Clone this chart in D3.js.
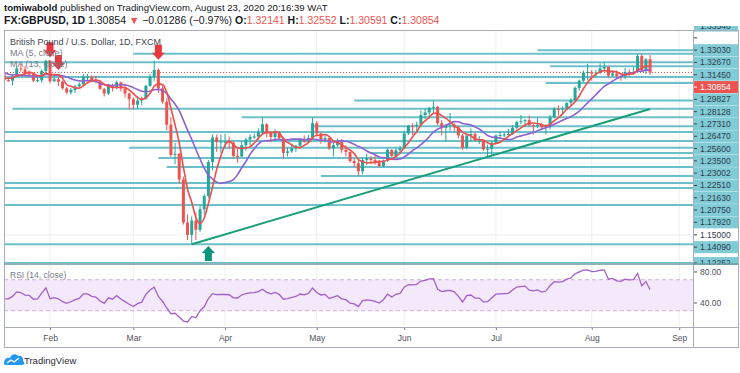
<!DOCTYPE html>
<html>
<head>
<meta charset="utf-8">
<script src="https://cdn.jsdelivr.net/npm/d3@7"></script>
<style>
  body { margin: 0; background: #fff; }
  svg { font-family: "Liberation Sans", Arial, sans-serif; }
</style>
</head>
<body>
<div id="chart"></div>
<script>
// ---- DATA ---------------------------------------------------------------
// daily bars (weekdays) from 2019-12-27; the first 15 bars are off screen, they only seed MA / RSI
const firstDay = "2019-12-27", lastDay = "2020-08-21"

const opens = [
  1.3010,1.3075,1.3115,1.3255,1.3245,1.3145,1.3080,1.3185,1.3115,1.3105,1.3065,1.3060,1.2990,1.3025,1.3035,
  1.3070,1.3010,1.3005,1.3045,1.3125,1.3115,1.3075,1.3070,1.3005,1.3010,1.3100,
  1.3200,1.3000,1.3020,1.2995,1.2930,1.2890,1.2915,1.2950,1.2970,1.3045,1.3045,1.3005,1.2995,1.2925,1.2880,1.2960,1.2935,1.2990,1.2930,1.2880,
  1.2825,1.2770,1.2810,1.2830,1.2955,1.3045,1.3110,1.2930,1.2800,1.2575,1.2280,1.2290,1.2040,1.1620,1.1500,1.1640,1.1550,1.1750,1.1880,1.2210,1.2450,1.2405,
  1.2410,1.2410,1.2400,1.2270,1.2265,1.2375,1.2430,1.2455,1.2460,1.2500,1.2580,1.2495,1.2455,1.2495,1.2445,1.2300,1.2315,1.2345,1.2370,1.2430,1.2410,1.2445,
  1.2590,1.2490,1.2430,1.2445,1.2345,1.2375,1.2405,1.2330,1.2310,1.2220,1.2200,1.2120,1.2230,1.2245,1.2230,1.2210,1.2170,1.2225,1.2330,1.2270,1.2325,
  1.2345,1.2490,1.2565,1.2560,1.2575,1.2670,1.2695,1.2740,1.2750,1.2590,1.2545,1.2565,1.2575,1.2550,1.2470,1.2350,1.2470,1.2485,1.2420,1.2420,1.2335,1.2340,
  1.2400,1.2470,1.2475,1.2480,1.2485,1.2545,1.2600,1.2610,1.2620,1.2570,1.2560,1.2575,1.2550,1.2565,1.2650,1.2730,1.2725,1.2735,1.2790,1.2815,1.2935,1.3005,1.3085,
  1.3090,1.3075,1.3085,1.3125,1.3140,1.3055,1.3075,1.3050,1.3045,1.3090,1.3085,1.3090,1.3245,1.3105,1.32141
]
const highs = [
  1.3085,1.3120,1.3285,1.3265,1.3270,1.3150,1.3195,1.3215,1.3155,1.3120,1.3100,1.3065,1.3030,1.3045,1.3085,
  1.3120,1.3035,1.3070,1.3150,1.3175,1.3150,1.3105,1.3075,1.3050,1.3115,1.3210,
  1.3205,1.3070,1.3045,1.3005,1.2945,1.2935,1.2965,1.2990,1.3070,1.3070,1.3055,1.3055,1.2995,1.2935,1.2975,1.2975,1.3005,1.2995,1.2975,1.2890,
  1.2840,1.2855,1.2850,1.2965,1.3070,1.3200,1.3125,1.2960,1.2835,1.2650,1.2400,1.2300,1.2070,1.1700,1.1680,1.1720,1.1790,1.1900,1.2230,1.2480,1.2480,1.2480,
  1.2485,1.2460,1.2410,1.2350,1.2410,1.2450,1.2480,1.2490,1.2540,1.2647,1.2590,1.2510,1.2530,1.2515,1.2450,1.2350,1.2390,1.2380,1.2440,1.2470,1.2475,1.2647,
  1.2610,1.2500,1.2485,1.2450,1.2400,1.2440,1.2435,1.2375,1.2315,1.2245,1.2230,1.2250,1.2295,1.2270,1.2275,1.2230,1.2235,1.2345,1.2335,1.2355,1.2370,
  1.2515,1.2575,1.2590,1.2605,1.2715,1.2730,1.2750,1.2812,1.2760,1.2620,1.2580,1.2690,1.2590,1.2565,1.2485,1.2475,1.2540,1.2500,1.2465,1.2425,1.2380,1.2415,
  1.2480,1.2505,1.2500,1.2535,1.2570,1.2615,1.2670,1.2630,1.2665,1.2580,1.2640,1.2595,1.2580,1.2670,1.2745,1.2765,1.2755,1.2790,1.2835,1.2950,1.3015,1.3105,1.3170,
  1.3110,1.3110,1.3175,1.3185,1.3145,1.3105,1.3105,1.3070,1.3130,1.3115,1.3140,1.3265,1.3267,1.3225,1.32552
]
const lows = [
  1.3000,1.3060,1.3110,1.3230,1.3120,1.3060,1.3075,1.3105,1.3075,1.3055,1.3035,1.2960,1.2955,1.2990,1.3015,
  1.3000,1.2995,1.2960,1.3040,1.3095,1.3055,1.3040,1.2990,1.2990,1.2985,1.3060,
  1.2980,1.2995,1.2955,1.2920,1.2870,1.2870,1.2885,1.2930,1.2960,1.3010,1.2995,1.2980,1.2915,1.2850,1.2865,1.2900,1.2920,1.2900,1.2840,1.2725,
  1.2725,1.2730,1.2765,1.2820,1.2945,1.3005,1.2885,1.2780,1.2520,1.2260,1.2190,1.2000,1.1600,1.1450,1.1409,1.1450,1.1530,1.1700,1.1860,1.2130,1.2310,1.2300,
  1.2340,1.2340,1.2250,1.2205,1.2260,1.2320,1.2370,1.2440,1.2430,1.2480,1.2450,1.2405,1.2435,1.2425,1.2245,1.2265,1.2300,1.2310,1.2355,1.2395,1.2400,1.2440,
  1.2460,1.2390,1.2400,1.2330,1.2265,1.2360,1.2300,1.2265,1.2205,1.2165,1.2075,1.2090,1.2180,1.2195,1.2185,1.2160,1.2160,1.2210,1.2260,1.2265,1.2300,
  1.2340,1.2475,1.2475,1.2500,1.2560,1.2630,1.2635,1.2690,1.2570,1.2470,1.2410,1.2515,1.2515,1.2440,1.2330,1.2335,1.2415,1.2415,1.2385,1.2320,1.2255,1.2280,
  1.2385,1.2440,1.2455,1.2460,1.2475,1.2530,1.2580,1.2555,1.2560,1.2480,1.2540,1.2520,1.2480,1.2530,1.2640,1.2665,1.2690,1.2720,1.2765,1.2810,1.2905,1.2990,1.3010,
  1.3005,1.3035,1.3070,1.3095,1.3030,1.3045,1.3030,1.3005,1.3020,1.3050,1.3065,1.3085,1.3095,1.3070,1.30591
]
const closes = [
  1.3075,1.3115,1.3255,1.3245,1.3145,1.3080,1.3185,1.3115,1.3105,1.3065,1.3060,1.2990,1.3025,1.3035,1.3070,
  1.3010,1.3005,1.3045,1.3125,1.3115,1.3075,1.3070,1.3005,1.3010,1.3100,1.3200,
  1.3000,1.3020,1.2995,1.2930,1.2890,1.2915,1.2950,1.2970,1.3045,1.3045,1.3005,1.2995,1.2925,1.2880,1.2960,1.2935,1.2990,1.2930,1.2880,1.2825,
  1.2770,1.2810,1.2830,1.2955,1.3045,1.3110,1.2930,1.2800,1.2575,1.2280,1.2290,1.2040,1.1620,1.1500,1.1640,1.1550,1.1750,1.1880,1.2210,1.2450,1.2405,1.2410,
  1.2410,1.2400,1.2270,1.2265,1.2375,1.2430,1.2455,1.2460,1.2500,1.2580,1.2495,1.2455,1.2495,1.2445,1.2300,1.2315,1.2345,1.2370,1.2430,1.2410,1.2445,1.2590,
  1.2490,1.2430,1.2445,1.2345,1.2375,1.2405,1.2330,1.2310,1.2220,1.2200,1.2120,1.2230,1.2245,1.2230,1.2210,1.2170,1.2225,1.2330,1.2270,1.2325,1.2345,
  1.2490,1.2565,1.2560,1.2575,1.2670,1.2695,1.2740,1.2750,1.2590,1.2545,1.2565,1.2575,1.2550,1.2470,1.2350,1.2470,1.2485,1.2420,1.2420,1.2335,1.2340,1.2400,
  1.2470,1.2475,1.2480,1.2485,1.2545,1.2600,1.2610,1.2620,1.2570,1.2560,1.2575,1.2550,1.2565,1.2650,1.2730,1.2725,1.2735,1.2790,1.2815,1.2935,1.3005,1.3085,1.3090,
  1.3075,1.3085,1.3125,1.3140,1.3055,1.3075,1.3050,1.3045,1.3090,1.3085,1.3090,1.3245,1.3105,1.3214,1.30854
]

// horizontal levels drawn on the chart (start date, or null = from the left edge)
const levelPrices = [1.33030,1.32670,1.31860,1.31450,1.30410,1.29827,1.28128,1.27310,1.26470,1.25600,1.25040,1.24160,
                     1.23500,1.23002,1.22510,1.21630,1.20750,1.20060,1.19570,1.17920,1.14090,1.12252]
const levelStarts = ["2020-07-15","2020-03-02",null,"2020-07-20",null,"2020-07-17","2020-05-14","2020-01-21","2020-04-07","2020-04-30",null,null,
                     "2020-02-28","2020-05-20","2020-03-10","2020-03-12","2020-05-04",null,null,null,null,null]
// price labels shown on the right scale
const axisLabels = ["1.33030","1.32670","1.31450","1.30854","1.29827","1.28128","1.27310","1.26470","1.25600","1.23500",
                    "1.23002","1.22510","1.21630","1.20750","1.17920","1.15000","1.14090","1.12252"]
const lastPrice = 1.30854
const gridPrices = [1.15, 1.20, 1.25, 1.30]

const trendPoints = [["2020-03-20", 1.1409], ["2020-08-21", 1.2729]]
const sellArrows = [["2020-02-03", 1.3235], ["2020-02-05", 1.3110], ["2020-03-10", 1.3210]]
const buyArrows  = [["2020-03-26", 1.1392]]

const rsiTicks = [80, 40]
const rsiBand = [30, 70]

// ---- LAYOUT -------------------------------------------------------------
const W = 740, H = 373
const pL = 4, pR = 693, pT = 30, mainBottom = 263, rsiTop = 264, rsiBottom = 327, axisBottom = 347
const green = "#26a69a", red = "#ef5350", levelColor = "#6cc0cc", boxColor = "#80cbd6"

const fmt = d3.timeFormat("%Y-%m-%d")
const days = d3.timeDay.range(new Date(2019, 11, 27), new Date(2020, 8, 5)).filter(d => d.getDay() % 6 !== 0)
const indexOf = new Map(days.map((d, i) => [fmt(d), i]))
const nBars = indexOf.get(lastDay) + 1

const bars = d3.range(nBars).map(i => ({ i, o: opens[i], h: highs[i], l: lows[i], c: closes[i] }))

const x = d3.scaleLinear().domain([14.95, 180.3]).range([pL, pR])
const y = d3.scaleLinear().domain([1.12252, 1.35]).range([mainBottom, pT])
const yr = d3.scaleLinear().domain([9, 90.3]).range([rsiBottom, rsiTop])

const sma = (arr, n) => arr.map((v, i) => i < n - 1 ? null : d3.mean(arr.slice(i - n + 1, i + 1)))
const rsi = (arr, n) => {
  const out = arr.map(() => null)
  let g = 0, l = 0
  for (let i = 1; i <= n; i++) { const d = arr[i] - arr[i - 1]; if (d > 0) g += d; else l -= d }
  g /= n; l /= n
  out[n] = 100 - 100 / (1 + g / l)
  for (let i = n + 1; i < arr.length; i++) {
    const d = arr[i] - arr[i - 1]
    g = (g * (n - 1) + Math.max(d, 0)) / n
    l = (l * (n - 1) + Math.max(-d, 0)) / n
    out[i] = 100 - 100 / (1 + g / l)
  }
  return out
}
const ma5 = sma(closes, 5), ma13 = sma(closes, 13), rsi14 = rsi(closes, 14)

const svg = d3.select("#chart").append("svg").attr("width", W).attr("height", H)
svg.append("rect").attr("width", W).attr("height", H).attr("fill", "#fff")

const defs = svg.append("defs")
defs.append("clipPath").attr("id", "clipMain").append("rect")
  .attr("x", pL).attr("y", pT).attr("width", pR - pL).attr("height", mainBottom - pT)
defs.append("clipPath").attr("id", "clipRsi").append("rect")
  .attr("x", pL).attr("y", rsiTop).attr("width", pR - pL).attr("height", rsiBottom - rsiTop)
defs.append("clipPath").attr("id", "clipAxis").append("rect")
  .attr("x", pR).attr("y", 26).attr("width", W - pR).attr("height", mainBottom - 26 + 2)

// ---- HEADER -------------------------------------------------------------
const head1 = svg.append("text").attr("x", 4).attr("y", 11).attr("font-size", 9.6).attr("fill", "#131722")
head1.append("tspan").attr("font-weight", "bold").text("tomiwabold")
head1.append("tspan").text(" published on TradingView.com, August 23, 2020 20:16:39 WAT")

const head2 = svg.append("text").attr("x", 4).attr("y", 24).attr("font-size", 10.5).attr("fill", "#131722")
head2.append("tspan").attr("font-weight", "bold").text("FX:GBPUSD, 1D")
head2.append("tspan").text(" 1.30854 ")
head2.append("tspan").attr("fill", red).text("▼")
head2.append("tspan").text(" −0.01286 (−0.97%) ")
;[["O:", "1.32141"], ["H:", "1.32552"], ["L:", "1.30591"], ["C:", "1.30854"]].forEach(([k, v], j) => {
  head2.append("tspan").attr("font-weight", "bold").text((j ? " " : "") + k)
  head2.append("tspan").attr("fill", red).text(v)
})

// ---- GRID -----------------------------------------------------------------
const monthTicks = days.filter((d, i) => i > 0 && d.getMonth() !== days[i - 1].getMonth())
  .map(d => ({ d, i: indexOf.get(fmt(d)) }))
  .filter(t => x(t.i) > pL && x(t.i) < pR)

const grid = svg.append("g").attr("stroke", "#eceef3").attr("stroke-width", 1)
monthTicks.forEach(t => {
  grid.append("line").attr("x1", x(t.i)).attr("x2", x(t.i)).attr("y1", pT).attr("y2", rsiBottom)
})
gridPrices.forEach(p => {
  grid.append("line").attr("x1", pL).attr("x2", pR).attr("y1", y(p)).attr("y2", y(p))
})

// ---- MAIN PANE --------------------------------------------------------------
const main = svg.append("g").attr("clip-path", "url(#clipMain)")

// horizontal levels
main.append("g").selectAll("line").data(levelPrices).join("line")
  .attr("x1", (p, k) => levelStarts[k] ? x(indexOf.get(levelStarts[k])) : pL)
  .attr("x2", pR)
  .attr("y1", p => y(p)).attr("y2", p => y(p))
  .attr("stroke", levelColor).attr("stroke-width", 2)

// last price line
main.append("line").attr("x1", pL).attr("x2", pR).attr("y1", y(lastPrice)).attr("y2", y(lastPrice))
  .attr("stroke", red).attr("stroke-width", 1).attr("stroke-dasharray", "1,2")

// candles
const candle = main.append("g").selectAll("g").data(bars).join("g")
  .attr("fill", d => d.c >= d.o ? green : red).attr("stroke", d => d.c >= d.o ? green : red)
candle.append("line")
  .attr("x1", d => x(d.i)).attr("x2", d => x(d.i))
  .attr("y1", d => y(d.h)).attr("y2", d => y(d.l)).attr("stroke-width", 1)
candle.append("rect")
  .attr("x", d => x(d.i) - 1.5).attr("width", 3)
  .attr("y", d => y(Math.max(d.o, d.c)))
  .attr("height", d => Math.max(1, Math.abs(y(d.o) - y(d.c))))
  .attr("stroke", "none")

// moving averages
const maLine = arr => d3.line().defined(i => arr[i] != null).x(i => x(i)).y(i => y(arr[i])).curve(d3.curveMonotoneX)
main.append("path").attr("d", maLine(ma13)(d3.range(nBars))).attr("fill", "none")
  .attr("stroke", "#8c62d2").attr("stroke-width", 1.6)
main.append("path").attr("d", maLine(ma5)(d3.range(nBars))).attr("fill", "none")
  .attr("stroke", "#ee4e4b").attr("stroke-width", 1.6)

// trend line
main.append("line")
  .attr("x1", x(indexOf.get(trendPoints[0][0]))).attr("y1", y(trendPoints[0][1]))
  .attr("x2", x(indexOf.get(trendPoints[1][0]))).attr("y2", y(trendPoints[1][1]))
  .attr("stroke", "#1a9e78").attr("stroke-width", 2)

// signal arrows
const arrowPath = (cx, ty, dir) => {
  // dir = 1 : pointing down, tip at ty ; dir = -1 : pointing up
  const s = dir
  return `M${cx - 3.5},${ty - s * 15} L${cx + 3.5},${ty - s * 15} L${cx + 3.5},${ty - s * 7} L${cx + 6.5},${ty - s * 7}` +
         ` L${cx},${ty} L${cx - 6.5},${ty - s * 7} L${cx - 3.5},${ty - s * 7} Z`
}
sellArrows.forEach(([d, p]) => main.append("path").attr("d", arrowPath(x(indexOf.get(d)), y(p), 1)).attr("fill", "#e8383d"))
buyArrows.forEach(([d, p]) => main.append("path").attr("d", arrowPath(x(indexOf.get(d)), y(p), -1)).attr("fill", "#0b957e"))

// legend
const legend = svg.append("g").attr("font-size", 9)
legend.append("text").attr("x", 10).attr("y", 45).attr("fill", "#434651").text("British Pound / U.S. Dollar, 1D, FXCM")
legend.append("text").attr("x", 10).attr("y", 56).attr("fill", "#787b86").text("MA (5, close)")
legend.append("text").attr("x", 10).attr("y", 67).attr("fill", "#787b86").text("MA (13, close)")

// ---- RIGHT PRICE SCALE -------------------------------------------------------
const axisG = svg.append("g").attr("clip-path", "url(#clipAxis)").attr("font-size", 8.5)
// labels stack downward when they would overlap
let prevY = -Infinity
const slots = axisLabels.map(t => {
  const cy = Math.max(y(+t), prevY + 12.3)
  prevY = cy
  return { t, cy }
})
// labels above the top of the stack, partly cut by the frame
slots.unshift({ t: "", cy: slots[0].cy - 12.3, white: true }, { t: "1.33540", cy: slots[0].cy - 24.6 })
slots.forEach(s => {
  const isLast = +s.t === lastPrice
  const isGrid = s.white || gridPrices.includes(+s.t)
  axisG.append("rect").attr("x", pR + 1).attr("y", s.cy - 6).attr("width", W - pR - 3).attr("height", 12)
    .attr("fill", isLast ? red : isGrid ? "#fff" : boxColor)
  axisG.append("line").attr("x1", pR + 1).attr("x2", pR + 4).attr("y1", s.cy).attr("y2", s.cy)
    .attr("stroke", isLast ? "#fff" : "#3b4453")
  axisG.append("text").attr("x", pR + 7).attr("y", s.cy + 3).attr("fill", isLast ? "#fff" : "#2f3b4b").text(s.t)
})

// ---- RSI PANE ------------------------------------------------------------------
const rsiG = svg.append("g").attr("clip-path", "url(#clipRsi)")
rsiG.append("rect").attr("x", pL).attr("width", pR - pL)
  .attr("y", yr(rsiBand[1])).attr("height", yr(rsiBand[0]) - yr(rsiBand[1]))
  .attr("fill", "#f4e9fb")
rsiBand.forEach(v => rsiG.append("line").attr("x1", pL).attr("x2", pR).attr("y1", yr(v)).attr("y2", yr(v))
  .attr("stroke", "#c9b3d6").attr("stroke-dasharray", "4,3"))
rsiG.append("path")
  .attr("d", d3.line().defined(i => rsi14[i] != null).x(i => x(i)).y(i => yr(rsi14[i]))(d3.range(nBars)))
  .attr("fill", "none").attr("stroke", "#a45fc9").attr("stroke-width", 1.3)
svg.append("text").attr("x", 10).attr("y", 278).attr("font-size", 8.5).attr("fill", "#787b86").text("RSI (14, close)")

rsiTicks.forEach(v => {
  svg.append("line").attr("x1", pR).attr("x2", pR + 4).attr("y1", yr(v)).attr("y2", yr(v)).attr("stroke", "#555")
  svg.append("text").attr("x", pR + 7).attr("y", yr(v) + 3).attr("font-size", 8.5).attr("fill", "#50535e").text(v.toFixed(2))
})

// ---- TIME AXIS -----------------------------------------------------------------
const timeAxis = d3.axisBottom(x).tickValues(monthTicks.map(t => t.i)).tickSize(3)
  .tickFormat(i => d3.timeFormat("%b")(days[i]))
const ta = svg.append("g").attr("transform", `translate(0,${rsiBottom})`).call(timeAxis)
ta.select(".domain").remove()
ta.selectAll("line").attr("stroke", "#787b86")
ta.selectAll("text").attr("font-size", 8.5).attr("fill", "#50535e").attr("font-family", "Liberation Sans, Arial").attr("dy", "0.9em")

// ---- FRAME ----------------------------------------------------------------------
const frame = svg.append("g").attr("stroke", "#a9adb7").attr("fill", "none")
frame.append("rect").attr("x", pL + 0.5).attr("y", pT + 0.5).attr("width", W - 2 - pL).attr("height", axisBottom - pT)
frame.append("line").attr("x1", pR + 0.5).attr("x2", pR + 0.5).attr("y1", pT).attr("y2", axisBottom)
frame.append("line").attr("x1", pL).attr("x2", W - 2).attr("y1", rsiBottom + 0.5).attr("y2", rsiBottom + 0.5)
frame.append("line").attr("x1", pL).attr("x2", W - 2).attr("y1", mainBottom + 1).attr("y2", mainBottom + 1)
  .attr("stroke", "#6a9aa6").attr("stroke-width", 1.5)

// ---- TRADINGVIEW LOGO -------------------------------------------------------------
const logo = svg.append("g").attr("transform", "translate(4,353)")
logo.append("path").attr("d", "M0,10 C0,6 3,4 6,5 C7,1 12,0 14,3 C17,2 20,5 19,8 C21,9 21,12 18,12 L2,12 C0,12 0,11 0,10 Z")
  .attr("fill", "#2196f3")
logo.append("polyline").attr("points", "3,10 7,7 10,9 15,5").attr("fill", "none").attr("stroke", "#fff").attr("stroke-width", 1.4)
svg.append("text").attr("x", 24).attr("y", 364).attr("font-size", 9.5).attr("fill", "#2a2e39").text("TradingView")
</script>
</body>
</html>
